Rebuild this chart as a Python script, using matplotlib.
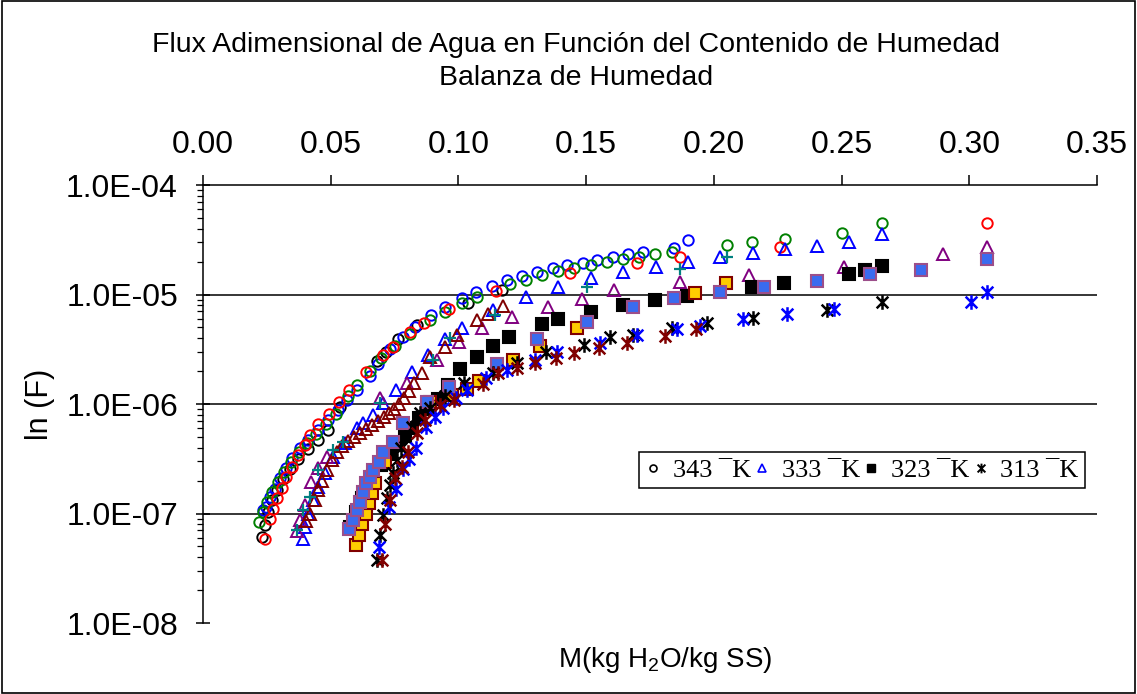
import matplotlib
matplotlib.use('Agg')
import matplotlib.pyplot as plt
from matplotlib.lines import Line2D
from matplotlib.path import Path
from matplotlib.ticker import FuncFormatter, FixedLocator, LogLocator, NullFormatter
from matplotlib.patches import Rectangle

plt.rcParams['font.family'] = ['Liberation Sans', 'DejaVu Sans']

# ---------------- data ----------------
title_lines = ["Flux Adimensional de Agua en Función del Contenido de Humedad",
               "Balanza de Humedad"]
x_ticks = [0.00, 0.05, 0.10, 0.15, 0.20, 0.25, 0.30, 0.35]
y_ticks = [1e-8, 1e-7, 1e-6, 1e-5, 1e-4]
legend_labels = ["343 \u00afK", "333 \u00afK", "323 \u00afK", "313 \u00afK"]

# 343 K (circles)
m_343_a = [0.0231, 0.0243, 0.0255, 0.0270, 0.0290, 0.0313, 0.0341, 0.0372, 0.0411, 0.0450,
           0.0489, 0.0536, 0.0681, 0.0717, 0.0763, 0.0838, 0.1038, 0.1171]
f_343_a = [6.1e-8, 7.9e-8, 1.03e-7, 1.33e-7, 1.64e-7, 2.07e-7, 2.55e-7, 3.15e-7, 3.9e-7, 4.7e-7,
           5.8e-7, 9.4e-7, 2.47e-6, 3.0e-6, 3.9e-6, 5.3e-6, 8.4e-6, 1.1e-5]
m_343_b = [0.0235, 0.0247, 0.0262, 0.0282, 0.0301, 0.0325, 0.0348, 0.0380, 0.0411, 0.0450,
           0.0489, 0.0529, 0.0564, 0.0603, 0.0654, 0.0685, 0.0732, 0.0783, 0.0830, 0.0893,
           0.0947, 0.1014, 0.1069, 0.1132, 0.1190, 0.1249, 0.1308, 0.1371, 0.1425, 0.1488,
           0.1543, 0.1605, 0.1664, 0.1723, 0.1844, 0.1899]
f_343_b = [1.08e-7, 1.15e-7, 1.41e-7, 1.66e-7, 2.12e-7, 2.6e-7, 3.2e-7, 3.96e-7, 4.7e-7, 5.8e-7,
           7.1e-7, 8.8e-7, 1.09e-6, 1.34e-6, 1.8e-6, 2.32e-6, 3.2e-6, 4.1e-6, 5.1e-6, 6.5e-6,
           7.7e-6, 9.3e-6, 1.05e-5, 1.2e-5, 1.36e-5, 1.47e-5, 1.6e-5, 1.75e-5, 1.86e-5, 1.94e-5,
           2.07e-5, 2.2e-5, 2.35e-5, 2.45e-5, 2.66e-5, 3.15e-5]
m_343_c = [0.0219, 0.0235, 0.0251, 0.0270, 0.0294, 0.0317, 0.0345, 0.0376, 0.0407, 0.0442,
           0.0482, 0.0521, 0.0568, 0.0603, 0.0654, 0.0697, 0.0752, 0.0810, 0.0889, 0.0947,
           0.1014, 0.1073, 0.1202, 0.1265, 0.1327, 0.1390, 0.1453, 0.1519, 0.1582, 0.1644,
           0.1707, 0.1770, 0.1836, 0.2052, 0.2150, 0.2279, 0.2502, 0.2659]
f_343_c = [8.4e-8, 1.03e-7, 1.27e-7, 1.57e-7, 1.93e-7, 2.4e-7, 2.95e-7, 3.65e-7, 4.4e-7, 5.3e-7,
           6.5e-7, 8.1e-7, 1.18e-6, 1.49e-6, 2.0e-6, 2.63e-6, 3.4e-6, 4.4e-6, 5.9e-6, 6.95e-6,
           8.4e-6, 9.5e-6, 1.25e-5, 1.36e-5, 1.5e-5, 1.64e-5, 1.75e-5, 1.86e-5, 1.98e-5, 2.1e-5,
           2.2e-5, 2.35e-5, 2.45e-5, 2.83e-5, 3.0e-5, 3.2e-5, 3.65e-5, 4.5e-5]
m_343_d = [0.0243, 0.0262, 0.0274, 0.0290, 0.0309, 0.0325, 0.0348, 0.0372, 0.0399, 0.0419,
           0.0450, 0.0493, 0.0532, 0.0572, 0.0638, 0.0705, 0.0744, 0.0810, 0.0865, 0.0963,
           0.1147, 0.1437, 0.1699, 0.1868, 0.2259, 0.3070]
f_343_d = [5.8e-8, 8.9e-8, 1.1e-7, 1.38e-7, 1.7e-7, 2.15e-7, 2.65e-7, 3.45e-7, 4.2e-7, 5.2e-7,
           6.5e-7, 8.1e-7, 1.04e-6, 1.34e-6, 1.96e-6, 2.8e-6, 3.35e-6, 4.5e-6, 5.5e-6, 7.3e-6,
           1.08e-5, 1.57e-5, 1.94e-5, 2.2e-5, 2.7e-5, 4.5e-5]

# 333 K (triangles / plus)
m_333_a = [0.0390, 0.0399, 0.0411, 0.0431, 0.0450, 0.0478, 0.0509, 0.0556, 0.0603, 0.0626,
           0.0666, 0.0705, 0.0756, 0.0818, 0.0881, 0.0947, 0.1014, 0.1135, 0.1265, 0.1390,
           0.1519, 0.1644, 0.1774, 0.1899, 0.2024, 0.2153, 0.2279, 0.2404, 0.2529, 0.2659]
f_333_a = [5.85e-8, 7.5e-8, 1.0e-7, 1.33e-7, 1.75e-7, 2.35e-7, 3.3e-7, 4.4e-7, 6.05e-7, 6.7e-7,
           7.9e-7, 1.02e-6, 1.34e-6, 1.96e-6, 2.8e-6, 3.9e-6, 4.94e-6, 7.2e-6, 9.5e-6, 1.17e-5,
           1.41e-5, 1.6e-5, 1.78e-5, 1.98e-5, 2.2e-5, 2.4e-5, 2.6e-5, 2.77e-5, 3.02e-5, 3.57e-5]
m_333_b = [0.0368, 0.0380, 0.0399, 0.0423, 0.0450, 0.0486, 0.0693, 0.0799, 0.0916, 0.1002,
           0.1092, 0.1210, 0.1351, 0.1484, 0.1609, 0.1868, 0.2138, 0.2510, 0.2897, 0.3070]
f_333_b = [6.9e-8, 8.7e-8, 1.2e-7, 1.94e-7, 2.6e-7, 3.28e-7, 1.13e-6, 1.55e-6, 2.52e-6, 3.68e-6,
           4.94e-6, 6.2e-6, 7.7e-6, 9.1e-6, 1.1e-5, 1.3e-5, 1.5e-5, 1.78e-5, 2.35e-5, 2.7e-5]
m_333_c = [0.0403, 0.0419, 0.0439, 0.0450, 0.0466, 0.0486, 0.0505, 0.0525, 0.0544, 0.0568,
           0.0591, 0.0615, 0.0638, 0.0662, 0.0685, 0.0709, 0.0728, 0.0748, 0.0767, 0.0787,
           0.0807, 0.0826, 0.0857, 0.0889, 0.0947, 0.0995, 0.1073, 0.1116, 0.1175]
f_333_c = [8.5e-8, 1.0e-7, 1.33e-7, 1.64e-7, 1.98e-7, 2.5e-7, 3.08e-7, 3.65e-7, 4.13e-7, 4.6e-7,
           5.0e-7, 5.45e-7, 5.9e-7, 6.4e-7, 7.0e-7, 7.6e-7, 8.3e-7, 9.0e-7, 1.0e-6, 1.13e-6,
           1.31e-6, 1.55e-6, 1.92e-6, 2.69e-6, 3.3e-6, 4.27e-6, 5.85e-6, 6.64e-6, 7.85e-6]
m_333_d = [0.0368, 0.0392, 0.0419, 0.0450, 0.0509, 0.0548, 0.0693, 0.0901, 0.0967, 0.1143,
           0.1504, 0.1868, 0.2052]
f_333_d = [7.1e-8, 1.08e-7, 1.41e-7, 2.5e-7, 3.8e-7, 4.5e-7, 1.02e-6, 2.52e-6, 4.0e-6, 6.5e-6,
           1.17e-5, 1.7e-5, 2.2e-5]

# 323 K (squares)
m_323_a = [0.0576, 0.0599, 0.0623, 0.0642, 0.0662, 0.0697, 0.0732, 0.0763, 0.0791, 0.0818,
           0.0846, 0.0881, 0.0920, 0.0959, 0.1006, 0.1073, 0.1135, 0.1198, 0.1327, 0.1390,
           0.1519, 0.1644, 0.1770, 0.1895, 0.2150, 0.2275, 0.2529, 0.2592, 0.2659]
f_323_a = [7.5e-8, 1.03e-7, 1.39e-7, 1.75e-7, 2.15e-7, 2.77e-7, 3.5e-7, 4.3e-7, 5.1e-7, 6.05e-7,
           7.45e-7, 9.0e-7, 1.11e-6, 1.49e-6, 2.09e-6, 2.69e-6, 3.39e-6, 4.1e-6, 5.4e-6, 6.0e-6,
           6.9e-6, 8.0e-6, 8.9e-6, 9.7e-6, 1.17e-5, 1.27e-5, 1.54e-5, 1.67e-5, 1.82e-5]
m_323_b = [0.0572, 0.0587, 0.0603, 0.0615, 0.0626, 0.0638, 0.0654, 0.0666, 0.0689, 0.0705,
           0.0744, 0.0783, 0.0877, 0.0963, 0.1151, 0.1308, 0.1504, 0.1684, 0.1844, 0.2024,
           0.2197, 0.2404, 0.2612, 0.2811, 0.3070]
f_323_b = [7.2e-8, 8.7e-8, 1.08e-7, 1.27e-7, 1.57e-7, 1.9e-7, 2.15e-7, 2.5e-7, 2.95e-7, 3.65e-7,
           4.5e-7, 6.7e-7, 1.04e-6, 1.43e-6, 2.32e-6, 3.93e-6, 5.6e-6, 7.7e-6, 9.3e-6, 1.05e-5,
           1.17e-5, 1.33e-5, 1.54e-5, 1.67e-5, 2.11e-5]
m_323_c = [0.0599, 0.0611, 0.0623, 0.0638, 0.0650, 0.0662, 0.0673, 0.0713, 0.0889, 0.0975,
           0.1034, 0.1081, 0.1214, 0.1320, 0.1464, 0.1926, 0.2048]
f_323_c = [5.15e-8, 6.4e-8, 8.0e-8, 1.0e-7, 1.25e-7, 1.54e-7, 1.9e-7, 2.95e-7, 1.04e-6, 1.21e-6,
           1.37e-6, 1.62e-6, 2.52e-6, 3.39e-6, 4.9e-6, 1.03e-5, 1.27e-5]

# 313 K (stars)
m_313_a = [0.0681, 0.0693, 0.0705, 0.0720, 0.0732, 0.0744, 0.0760, 0.0775, 0.0791, 0.0818,
           0.0850, 0.0889, 0.0948, 0.1022, 0.1135, 0.1229, 0.1343, 0.1492, 0.1594, 0.1684,
           0.1836, 0.1973, 0.2153, 0.2443, 0.2659]
f_313_a = [3.76e-8, 6.4e-8, 9.7e-8, 1.39e-7, 1.82e-7, 2.34e-7, 3.08e-7, 3.96e-7, 5.0e-7, 6.2e-7,
           8.3e-7, 9.2e-7, 1.18e-6, 1.55e-6, 1.92e-6, 2.37e-6, 2.98e-6, 3.46e-6, 4.1e-6, 4.27e-6,
           4.94e-6, 5.5e-6, 6.1e-6, 7.2e-6, 8.5e-6]
m_313_b = [0.0689, 0.0728, 0.0756, 0.0783, 0.0807, 0.0834, 0.0873, 0.0908, 0.0940, 0.0991,
           0.1034, 0.1108, 0.1190, 0.1300, 0.1386, 0.1554, 0.1699, 0.1856, 0.1946, 0.2114,
           0.2287, 0.2471, 0.3007, 0.3070]
f_313_b = [4.94e-8, 1.15e-7, 1.67e-7, 2.55e-7, 3.15e-7, 3.96e-7, 6.2e-7, 7.6e-7, 9.2e-7, 1.13e-6,
           1.34e-6, 1.73e-6, 2.04e-6, 2.52e-6, 2.98e-6, 3.6e-6, 4.27e-6, 4.84e-6, 5.15e-6, 6.0e-6,
           6.64e-6, 7.4e-6, 8.5e-6, 1.05e-5]
m_313_c = [0.0701, 0.0713, 0.0732, 0.0752, 0.0779, 0.0803, 0.0838, 0.0869, 0.0928, 0.0983,
           0.1096, 0.1155, 0.1229, 0.1300, 0.1382, 0.1453, 0.1550, 0.1660, 0.1809, 0.1930]
f_313_c = [3.76e-8, 8.0e-8, 1.33e-7, 2.11e-7, 2.66e-7, 3.65e-7, 5.45e-7, 7.1e-7, 9.8e-7, 1.09e-6,
           1.52e-6, 1.92e-6, 2.13e-6, 2.37e-6, 2.63e-6, 2.92e-6, 3.25e-6, 3.6e-6, 4.17e-6, 4.84e-6]

# ---------------- styles ----------------
star = Path([(0, -1), (0, 1), (-0.8, -0.8), (0.8, 0.8), (-0.8, 0.8), (0.8, -0.8)],
            [Path.MOVETO, Path.LINETO, Path.MOVETO, Path.LINETO, Path.MOVETO, Path.LINETO])

open_c = dict(marker='o', ms=7.5, mfc='none', mew=1.4)
open_t = dict(marker='^', ms=8, mfc='none', mew=1.4)
sq = dict(marker='s', ms=8, mew=1.5)
st = dict(marker=star, ms=10.5, mew=1.8)

series = [
    (m_343_a, f_343_a, dict(open_c, mec='black')),
    (m_343_b, f_343_b, dict(open_c, mec='#0000FF')),
    (m_343_c, f_343_c, dict(open_c, mec='#008000')),
    (m_343_d, f_343_d, dict(open_c, mec='#FF0000')),
    (m_333_a, f_333_a, dict(open_t, mec='#0000FF')),
    (m_333_b, f_333_b, dict(open_t, mec='#800080')),
    (m_333_c, f_333_c, dict(open_t, mec='#800000')),
    (m_333_d, f_333_d, dict(marker='+', ms=9, mew=1.6, mec='#008080')),
    (m_323_a, f_323_a, dict(sq, mfc='black', mec='black')),
    (m_323_c, f_323_c, dict(sq, mfc='#FFCC00', mec='#800000')),
    (m_323_b, f_323_b, dict(sq, mfc='#3A6BEF', mec='#9C4E8A')),
    (m_313_a, f_313_a, dict(st, mec='black')),
    (m_313_b, f_313_b, dict(st, mec='#0000FF')),
    (m_313_c, f_313_c, dict(st, mec='#800000')),
]

# ---------------- figure ----------------
fig = plt.figure(figsize=(11.37, 6.94), dpi=100)
fig.patches.append(Rectangle((0.0015, 0.002), 0.997, 0.996, transform=fig.transFigure,
                             fill=False, edgecolor='black', linewidth=1.2))
ax = fig.add_axes([0.1785, 0.1023, 0.7863, 0.6311])
ax.set_yscale('log')
ax.set_xlim(x_ticks[0], x_ticks[-1])
ax.set_ylim(y_ticks[0], y_ticks[-1])

for yv in y_ticks[1:-1]:
    ax.axhline(yv, color='black', lw=1.1, zorder=1)

for mx, fy, style in series:
    ax.plot(mx, fy, ls='none', zorder=3, **style)

ax.spines['right'].set_visible(False)
ax.spines['bottom'].set_visible(False)
ax.spines['top'].set_linewidth(1.1)
ax.spines['left'].set_linewidth(1.1)

ax.xaxis.tick_top()
ax.xaxis.set_major_locator(FixedLocator(x_ticks))
ax.xaxis.set_major_formatter(FuncFormatter(lambda v, p: f"{v:.2f}"))
ax.tick_params(axis='x', which='major', direction='out', length=7, width=1.1,
               labelsize=23, pad=11)

ax.yaxis.set_major_locator(FixedLocator(y_ticks))
ax.yaxis.set_major_formatter(FuncFormatter(lambda v, p: f"{v:.1E}"))
ax.yaxis.set_minor_locator(LogLocator(base=10, subs=range(2, 10)))
ax.yaxis.set_minor_formatter(NullFormatter())
ax.tick_params(axis='y', which='major', direction='inout', length=10, width=1.1,
               labelsize=23, pad=13)
ax.tick_params(axis='y', which='minor', direction='out', length=4, width=0.9)

fig.text(576 / 1137, 1 - 45 / 694, title_lines[0], ha='center', va='center', fontsize=20.5)
fig.text(576 / 1137, 1 - 78 / 694, title_lines[1], ha='center', va='center', fontsize=20.5)
fig.text(40 / 1137, 1 - 404 / 694, "ln (F)", rotation=90, ha='center', va='center', fontsize=22)
fig.text(665 / 1137, 1 - 660 / 694, r"M(kg H$_\mathregular{2}$O/kg SS)", ha='center',
         va='center', fontsize=20)

handles = [
    Line2D([], [], ls='none', marker='o', ms=5, mfc='none', mec='black', mew=1.2),
    Line2D([], [], ls='none', marker='^', ms=5.5, mfc='none', mec='#0000FF', mew=1.2),
    Line2D([], [], ls='none', marker='s', ms=6, mfc='black', mec='black'),
    Line2D([], [], ls='none', marker=star, ms=7, mec='black', mew=1.4),
]
leg = ax.legend(handles, legend_labels, ncol=4, loc='center',
                bbox_to_anchor=(862 / 1137, 1 - 470 / 694), bbox_transform=fig.transFigure,
                prop={'family': ['Liberation Serif', 'DejaVu Serif'], 'size': 19},
                frameon=True, fancybox=False, edgecolor='black', framealpha=1,
                handlelength=0.6, handletextpad=0.45, columnspacing=0.12,
                borderpad=0.25, borderaxespad=0)
leg.get_frame().set_linewidth(1.1)

fig.savefig('out.png', dpi=100)
